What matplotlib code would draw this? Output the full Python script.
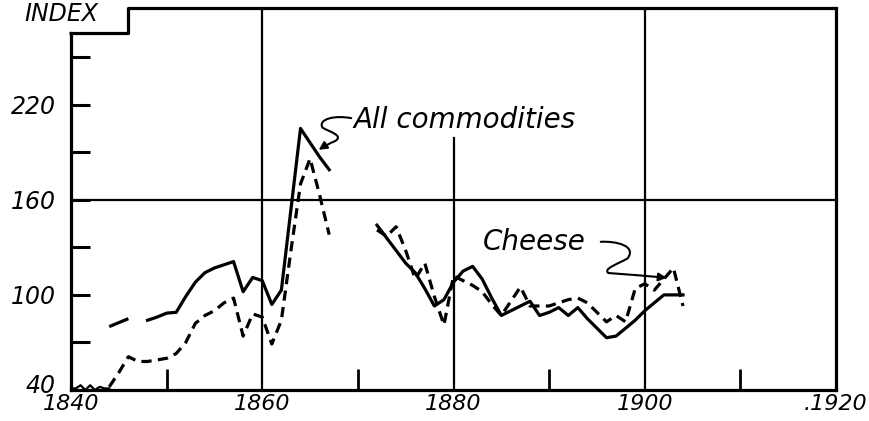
import matplotlib.pyplot as plt
from matplotlib.path import Path
from matplotlib.patches import FancyArrowPatch
from matplotlib.transforms import ScaledTranslation

# index values
comm_early_years = [1844, 1846]
comm_early = [80, 85]
comm_years_a = list(range(1848, 1868))
comm_a = [84, 86, 88.5, 89, 99, 108, 114, 117, 119, 121,
          102, 111, 109, 94, 103, 154, 205, 196, 187, 179]
comm_years_b = list(range(1872, 1905))
comm_b = [144, 136, 128, 120, 114, 104, 93, 97, 108, 115,
          118, 110, 98, 87, 90, 93, 96, 87, 89, 92,
          87, 92, 85, 79, 73, 74, 79, 84, 90, 95,
          100, 100, 100]

cheese_low_years = [1840, 1840.5, 1841, 1841.5, 1842, 1842.5, 1843, 1843.5, 1844]
cheese_low = [41, 41, 43, 40, 43, 40, 42, 41, 41]
cheese_years_a = list(range(1844, 1868))
cheese_a = [42, 51, 61, 58, 58, 59, 60, 63, 70, 82,
            87, 90, 95, 98, 74, 88, 86, 69, 84, 128,
            170, 186, 163, 138]
cheese_years_b = list(range(1872, 1905))
cheese_b = [141, 137, 143, 128, 110, 120, 99, 81, 112, 109,
            106, 102, 94, 87, 96, 105, 93, 93, 93, 95,
            97, 98, 95, 89, 83, 87, 83, 104, 107, 103,
            110, 117, 93]

year_ticks = [1840, 1860, 1880, 1900, 1920]
year_labels = ["1840", "1860", "1880", "1900", ".1920"]
index_ticks = [40, 100, 160, 220]
index_labels = ["40", "100", "160", "220"]

fig = plt.figure(figsize=(8.7, 4.21), dpi=100)
ax = fig.add_axes([71 / 870, 31 / 421, 765 / 870, 382 / 421])
ax.set_xlim(1840, 1920)
ax.set_ylim(40, 281)

lw = 2.3
for s in ["left", "bottom", "right"]:
    ax.spines[s].set_linewidth(lw)
ax.spines["top"].set_visible(False)
ax.spines["left"].set_bounds(40, 265.5)
# notched top edge with the INDEX label
ax.plot([1839.8, 1846, 1846, 1920], [265.5, 265.5, 281, 281],
        color="black", lw=lw, clip_on=False, solid_capstyle="butt")

# grid lines
ax.axhline(160, color="black", lw=1.6)
ax.plot([1860, 1860], [40, 281], color="black", lw=1.6)
ax.plot([1880, 1880], [40, 199], color="black", lw=1.6)
ax.plot([1900, 1900], [40, 281], color="black", lw=1.6)

# ticks
font = dict(family="DejaVu Sans", style="italic", size=17)
ax.set_xticks(year_ticks, year_labels, family="DejaVu Sans", style="italic", size=16)
ax.set_xticks([1850, 1870, 1890, 1910], minor=True)
ax.set_yticks(index_ticks, index_labels, **font)
ax.set_yticks([70, 130, 190, 250], minor=True)
ax.tick_params(axis="x", which="major", length=0, pad=3)
ax.tick_params(axis="x", which="minor", direction="in", length=15, width=2)
ax.tick_params(axis="y", which="major", direction="in", length=14, width=2.2, pad=11)
ax.tick_params(axis="y", which="minor", direction="in", length=14, width=2.2)
# lift the "40" a little so it sits clear of "1840"
lab40 = ax.yaxis.get_major_ticks()[0].label1
lab40.set_transform(lab40.get_transform() + ScaledTranslation(0, 5 / 72, fig.dpi_scale_trans))
ax.text(-0.061, 0.985, "INDEX", transform=ax.transAxes, ha="left", va="center",
        family="DejaVu Sans", style="italic", size=17)

# series
ax.plot(comm_early_years, comm_early, color="black", lw=lw, solid_capstyle="butt")
ax.plot(comm_years_a, comm_a, color="black", lw=lw)
ax.plot(comm_years_b, comm_b, color="black", lw=lw)

dash = (0, (3.2, 2.0))
ax.plot(cheese_low_years, cheese_low, color="black", lw=1.6, clip_on=False)
ax.plot(cheese_years_a, cheese_a, color="black", lw=lw, linestyle=dash)
ax.plot(cheese_years_b, cheese_b, color="black", lw=lw, linestyle=dash)

# labels with hand-drawn style leaders
ax.text(1869.5, 205.5, "All commodities", ha="left", va="baseline",
        family="DejaVu Sans", style="italic", size=20)
ax.text(1883.1, 128.5, "Cheese", ha="left", va="baseline",
        family="DejaVu Sans", style="italic", size=20)

def leader(points):
    codes = [Path.MOVETO] + [Path.CURVE4] * (len(points) - 1)
    p = FancyArrowPatch(path=Path(points, codes), arrowstyle="-|>",
                        mutation_scale=12, color="black", lw=1.5,
                        transform=ax.transData)
    ax.add_patch(p)

leader([(1869.3, 211.5), (1867.6, 213.5), (1865.8, 211.0), (1866.3, 205.5),
        (1867.0, 203.0), (1868.6, 200.5), (1867.6, 197.0), (1867.0, 195.5),
        (1866.4, 193.5), (1865.9, 191.5)])
leader([(1895.4, 133.5), (1897.0, 134.0), (1899.2, 131.0), (1898.2, 123.0),
        (1897.2, 119.5), (1895.6, 116.5), (1896.2, 113.8), (1898.0, 113.0),
        (1900.5, 111.8), (1902.3, 110.8)])

fig.savefig("out.png", dpi=100)
